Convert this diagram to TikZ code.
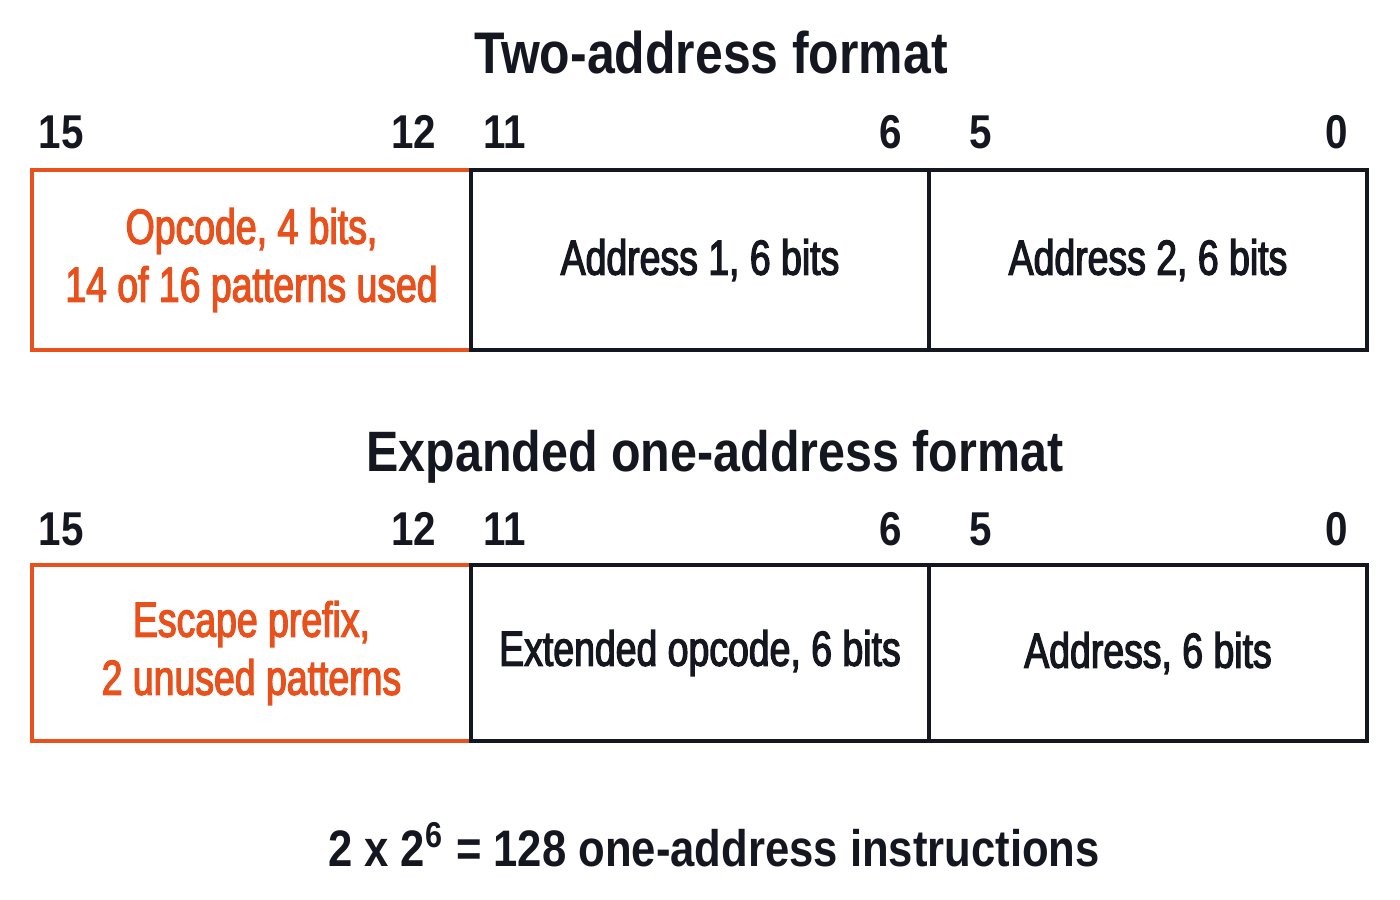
\documentclass[tikz,border=0pt]{standalone}
\usepackage{fontspec}
\setmainfont{Liberation Sans}[FakeStretch=0.85]
\newfontfamily\fieldfont{Liberation Sans}[FakeStretch=0.76, FakeBold=2.5]
\usetikzlibrary{positioning}
\definecolor{opred}{HTML}{E8501C}
\definecolor{ink}{HTML}{14171F}
\tikzset{
  title/.style={font=\fontsize{16.7}{20}\selectfont\bfseries, text=ink, inner sep=0pt},
  bitno/.style={font=\fontsize{13.5}{16}\selectfont\bfseries, text=ink, inner sep=0pt},
  field/.style={draw=ink, line width=1.2pt, minimum height=#1, inner sep=0pt,
    align=center, font=\fieldfont\fontsize{14}{16.5}\selectfont, text=ink},
  opfield/.style={field=#1, draw=opred, text=opred}
}

\begin{document}
\begin{tikzpicture}[x=0.01cm, y=-0.01cm]
	\useasboundingbox (0,0) rectangle (1400,900);
	% two-address format
	\node[title, anchor=base] (twotitle) at (711,73) {Two-address format};
	\node[bitno, anchor=base west] (a15) at (38,148) {15};
	\node[bitno, anchor=base east] (a12) at (437,148) {12};
	\node[bitno, anchor=base west] (a11) at (483,148) {11};
	\node[bitno, anchor=base east] (a6) at (903,148) {6};
	\node[bitno, anchor=base west] (a5) at (969,148) {5};
	\node[bitno, anchor=base east] (a0) at (1349,148) {0};
	\node[opfield=1.8cm, minimum width=4.39cm] (opc) at (251.5,260) {Opcode, 4 bits,\\14 of 16 patterns used};
	\node[field=1.8cm, minimum width=4.58cm] (addra) at (700,260) {Address 1, 6 bits};
	\node[field=1.8cm, minimum width=4.38cm] (addrb) at (1148,260) {Address 2, 6 bits};
	% expanded one-address format
	\node[title, font=\fontsize{16.2}{20}\selectfont\bfseries, anchor=base] (onetitle) at (715,471) {Expanded one-address format};
	\node[bitno, anchor=base west] (b15) at (38,545) {15};
	\node[bitno, anchor=base east] (b12) at (437,545) {12};
	\node[bitno, anchor=base west] (b11) at (483,545) {11};
	\node[bitno, anchor=base east] (b6) at (903,545) {6};
	\node[bitno, anchor=base west] (b5) at (969,545) {5};
	\node[bitno, anchor=base east] (b0) at (1349,545) {0};
	\node[opfield=1.76cm, minimum width=4.39cm] (esc) at (251.5,653) {Escape prefix,\\2 unused patterns};
	\node[field=1.76cm, minimum width=4.58cm] (extop) at (700,653) {Extended opcode, 6 bits};
	\node[field=1.76cm, minimum width=4.38cm] (addr) at (1148,653) {Address, 6 bits};
	% count
	\node[title, font=\fontsize{14.6}{18}\selectfont\bfseries, anchor=base] (count) at (714,866)
		{2 x 2\textsuperscript{6} = 128 one-address instructions};
\end{tikzpicture}
\end{document}
